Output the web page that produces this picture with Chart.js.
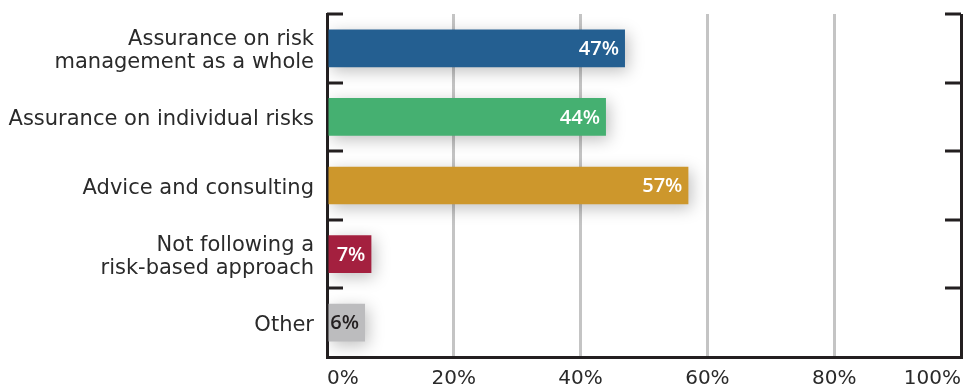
<!DOCTYPE html>
<html>
<head>
<meta charset="utf-8">
<script src="https://cdn.jsdelivr.net/npm/chart.js@4"></script>
<style>
  html, body { margin: 0; padding: 0; background: #fff; }
  #wrap { width: 967px; height: 389px; }
</style>
</head>
<body>
<div id="wrap"><canvas id="chart"></canvas></div>
<script>
const categories = [
  ["Assurance on risk", "management as a whole"],
  "Assurance on individual risks",
  "Advice and consulting",
  ["Not following a", "risk-based approach"],
  "Other"
];
const values = [47, 44, 57, 7, 6];
const barColors = ["#245f91", "#45b071", "#cd972c", "#a4203f", "#bcbcbe"];
const labelColors = ["#ffffff", "#ffffff", "#ffffff", "#ffffff", "#231f20"];
const xTicks = [0, 20, 40, 60, 80, 100];

const AXIS = "#231f20";
const TEXT = "#2a2a2a";
const FONT = "'DejaVu Sans', 'Open Sans', sans-serif";

// soft drop shadow under the bars
const barShadow = {
  id: "barShadow",
  beforeDatasetsDraw(chart) {
    const c = chart.ctx;
    c.save();
    c.shadowColor = "rgba(0,0,0,0.25)";
    c.shadowBlur = 16;
    c.shadowOffsetX = 3;
    c.shadowOffsetY = 4;
  },
  afterDatasetsDraw(chart) {
    chart.ctx.restore();
  }
};

// value labels at the end of each bar
const valueLabels = {
  id: "valueLabels",
  afterDatasetsDraw(chart) {
    const c = chart.ctx;
    const meta = chart.getDatasetMeta(0);
    c.save();
    c.font = "600 20px 'Open Sans', sans-serif";
    c.textAlign = "right";
    c.textBaseline = "middle";
    meta.data.forEach((bar, i) => {
      c.fillStyle = labelColors[i];
      c.fillText(values[i] + "%", bar.x - 6, bar.y + 1);
    });
    c.restore();
  }
};

// frame: inward tick marks on the left and right at category boundaries
const frameTicks = {
  id: "frameTicks",
  afterDraw(chart) {
    const c = chart.ctx;
    const y = chart.scales.y;
    const x = chart.scales.x;
    const left = x.getPixelForValue(0);
    const right = x.getPixelForValue(100);
    c.save();
    c.strokeStyle = AXIS;
    c.lineWidth = 3;
    for (let i = 0; i < categories.length; i++) {
      const py = Math.round(y.getPixelForValue(i - 0.5));
      c.beginPath();
      c.moveTo(left, py);
      c.lineTo(left + 16, py);
      c.moveTo(right, py);
      c.lineTo(right - 16, py);
      c.stroke();
    }
    c.restore();
  }
};

new Chart(document.getElementById("chart"), {
  type: "bar",
  data: {
    labels: categories,
    datasets: [{
      data: values,
      backgroundColor: barColors,
      borderWidth: 0,
      categoryPercentage: 1,
      barPercentage: 0.55
    }]
  },
  options: {
    indexAxis: "y",
    responsive: true,
    maintainAspectRatio: false,
    animation: false,
    layout: { padding: { top: 14, right: 6, left: 0, bottom: 0 } },
    plugins: {
      legend: { display: false },
      tooltip: { enabled: false }
    },
    scales: {
      x: {
        min: 0,
        max: 100,
        afterBuildTicks(scale) {
          scale.ticks = xTicks.map(v => ({ value: v }));
        },
        afterFit(scale) {
          scale.height = 32;
          scale.paddingLeft = 0;
          scale.paddingRight = 0;
        },
        grid: {
          color: ctx => (ctx.tick && ctx.tick.value === 100) ? AXIS : "#c4c4c4",
          lineWidth: 3,
          drawTicks: false
        },
        border: { display: true, color: AXIS, width: 3 },
        ticks: {
          align: "inner",
          padding: 10,
          color: TEXT,
          font: { family: FONT, size: 20 },
          callback: v => v + "%"
        }
      },
      y: {
        afterFit(scale) {
          scale.width = 327;
          scale.paddingTop = 0;
          scale.paddingBottom = 0;
        },
        grid: { display: false, drawTicks: false },
        border: { display: true, color: AXIS, width: 3 },
        ticks: {
          padding: 13,
          labelOffset: 3,
          color: TEXT,
          font: { family: FONT, size: 21, lineHeight: 1.1 }
        }
      }
    }
  },
  plugins: [barShadow, valueLabels, frameTicks]
});
</script>
</body>
</html>
